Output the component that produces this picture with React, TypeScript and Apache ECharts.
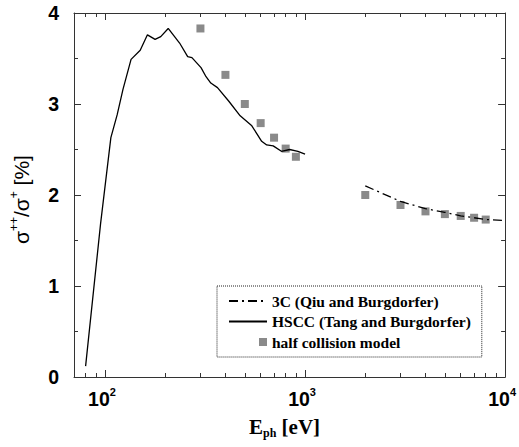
import React, { useEffect, useRef } from 'react';
import * as echarts from 'echarts';

// HSCC (Tang and Burgdorfer) curve
const hsccX = [80, 95, 107, 115, 123, 135, 150, 163, 178, 190, 207, 236, 259, 272, 302, 320, 338, 365, 416, 474, 542, 607, 643, 693, 762, 838, 921, 1000];
const hsccY = [0.12, 1.68, 2.63, 2.88, 3.16, 3.49, 3.59, 3.76, 3.71, 3.74, 3.83, 3.67, 3.52, 3.51, 3.40, 3.30, 3.23, 3.18, 3.03, 2.87, 2.76, 2.59, 2.55, 2.54, 2.48, 2.50, 2.48, 2.45];

// 3C (Qiu and Burgdorfer) curve
const qiuX = [2000, 3000, 4000, 5000, 6000, 7000, 8000, 10000];
const qiuY = [2.10, 1.93, 1.85, 1.81, 1.77, 1.75, 1.73, 1.72];

// half collision model points
const halfX = [300, 400, 500, 600, 700, 800, 900, 2000, 3000, 4000, 5000, 6000, 7000, 8000];
const halfY = [3.83, 3.32, 3.00, 2.79, 2.63, 2.51, 2.42, 2.00, 1.89, 1.82, 1.79, 1.77, 1.75, 1.73];

const xMajorTicks = [100, 1000, 10000];
const xMinorTicks = [80, 90, 200, 300, 400, 500, 600, 700, 800, 900, 2000, 3000, 4000, 5000, 6000, 7000, 8000, 9000];

const seriesNames = ['3C (Qiu and Burgdorfer)', 'HSCC (Tang and Burgdorfer)', 'half collision model'];

const zip = (xs: number[], ys: number[]) => xs.map((x, i) => [x, ys[i]]);

export default function App() {
  const ref = useRef<HTMLDivElement>(null);
  useEffect(() => {
    if (!ref.current) return;
    const chart = echarts.init(ref.current, undefined, { renderer: 'svg' });
    const axisColor = '#333';
    const sans = 'Liberation Sans, Arial, sans-serif';
    const serif = 'Liberation Serif, Times New Roman, serif';
    const xBase = {
      type: 'log' as const,
      logBase: 10,
      min: 70,
      max: 10000,
      splitLine: { show: false },
      minorTick: { show: false },
    };
    const majorX = (position: 'top' | 'bottom', labels: boolean) => ({
      ...xBase,
      position,
      axisLine: { show: true, onZero: false, lineStyle: { color: axisColor, width: 1 } },
      axisTick: { show: true, inside: true, length: 7, customValues: xMajorTicks, lineStyle: { color: axisColor } },
      axisLabel: labels
        ? {
            show: true,
            customValues: xMajorTicks,
            margin: 9,
            padding: [0, 6, 0, 0],
            formatter: (v: number) => `{b|10}{s|${Math.round(Math.log10(v))}}`,
            rich: {
              b: { fontFamily: sans, fontWeight: 'bold', fontSize: 19.5, color: '#000', lineHeight: 26 },
              s: { fontFamily: sans, fontWeight: 'bold', fontSize: 11, color: '#000', verticalAlign: 'top', lineHeight: 13 },
            },
          }
        : { show: false },
    });
    const minorX = (position: 'top' | 'bottom') => ({
      ...xBase,
      position,
      axisLine: { show: false, onZero: false },
      axisTick: { show: true, inside: true, length: 4, customValues: xMinorTicks, lineStyle: { color: axisColor } },
      axisLabel: { show: false },
    });
    const yAxisOf = (position: 'left' | 'right', labels: boolean) => ({
      type: 'value' as const,
      position,
      min: 0,
      max: 4,
      interval: 1,
      splitLine: { show: false },
      axisLine: { show: true, onZero: false, lineStyle: { color: axisColor, width: 1 } },
      axisTick: { show: true, inside: true, length: 7, lineStyle: { color: axisColor } },
      minorTick: { show: true, splitNumber: 2, length: 4, lineStyle: { color: axisColor } },
      axisLabel: labels
        ? { show: true, margin: 15, fontFamily: sans, fontWeight: 'bold', fontSize: 19.5, color: '#000' }
        : { show: false },
    });

    const hiddenSymbol = { color: 'rgba(0,0,0,0)', borderWidth: 0, borderColor: 'rgba(0,0,0,0)' };

    const option: any = {
      animation: false,
      backgroundColor: '#fff',
      grid: { left: 70, right: 12, top: 13, bottom: 70, containLabel: false },
      xAxis: [
        {
          ...majorX('bottom', true),
          name: '{e|E}{sub|ph}{e| [eV]}',
          nameLocation: 'middle',
          nameGap: 38,
          nameTextStyle: {
            padding: [0, 10, 0, 0],
            rich: {
              e: { fontFamily: serif, fontWeight: 'bold', fontSize: 21, color: '#000', lineHeight: 24 },
              sub: { fontFamily: serif, fontWeight: 'bold', fontSize: 12, color: '#000', verticalAlign: 'bottom', lineHeight: 14 },
            },
          },
        },
        minorX('bottom'),
        majorX('top', false),
        minorX('top'),
      ],
      yAxis: [
        {
          ...yAxisOf('left', true),
          name: '{s|σ}{p|++}{s|/σ}{p|+}{s| [%]}',
          nameLocation: 'middle',
          nameRotate: 90,
          nameGap: 40,
          nameTextStyle: {
            padding: [0, 9, 0, 0],
            rich: {
              s: { fontFamily: sans, fontSize: 21, color: '#000', lineHeight: 26 },
              p: { fontFamily: sans, fontSize: 12, color: '#000', verticalAlign: 'top', lineHeight: 12 },
            },
          },
        },
        yAxisOf('right', false),
      ],
      legend: {
        orient: 'vertical',
        left: 217,
        top: 286,
        padding: [7, 11, 7, 11],
        itemWidth: 38,
        itemHeight: 8,
        itemGap: 4.5,
        borderColor: '#222',
        borderWidth: 1,
        borderType: 'dotted',
        backgroundColor: '#fff',
        textStyle: { fontFamily: serif, fontWeight: 'bold', fontSize: 15.5, color: '#000' },
        data: [
          { name: seriesNames[0], itemStyle: hiddenSymbol },
          { name: seriesNames[1], itemStyle: hiddenSymbol },
          { name: seriesNames[2], icon: 'path://M0,4L0.01,4Z M30,0L38,0L38,8L30,8Z' },
        ],
      },
      series: [
        {
          name: seriesNames[0],
          type: 'line',
          xAxisIndex: 0,
          yAxisIndex: 0,
          symbol: 'none',
          data: zip(qiuX, qiuY),
          lineStyle: { color: '#000', width: 1.3, type: [9, 4, 2, 4] },
          itemStyle: { color: '#000' },
          z: 3,
        },
        {
          name: seriesNames[1],
          type: 'line',
          xAxisIndex: 0,
          yAxisIndex: 0,
          symbol: 'none',
          data: zip(hsccX, hsccY),
          lineStyle: { color: '#000', width: 1.3 },
          itemStyle: { color: '#000' },
          z: 3,
        },
        {
          name: seriesNames[2],
          type: 'scatter',
          xAxisIndex: 0,
          yAxisIndex: 0,
          symbol: 'rect',
          symbolSize: 8,
          data: zip(halfX, halfY),
          itemStyle: { color: '#8a8a8a', opacity: 1 },
          z: 2,
        },
      ],
    };
    chart.setOption(option);
    return () => chart.dispose();
  }, []);
  return (
    <div
      ref={ref}
      style={{ position: 'absolute', left: 0, top: 0, width: 519, height: 447, background: '#fff' }}
    />
  );
}
